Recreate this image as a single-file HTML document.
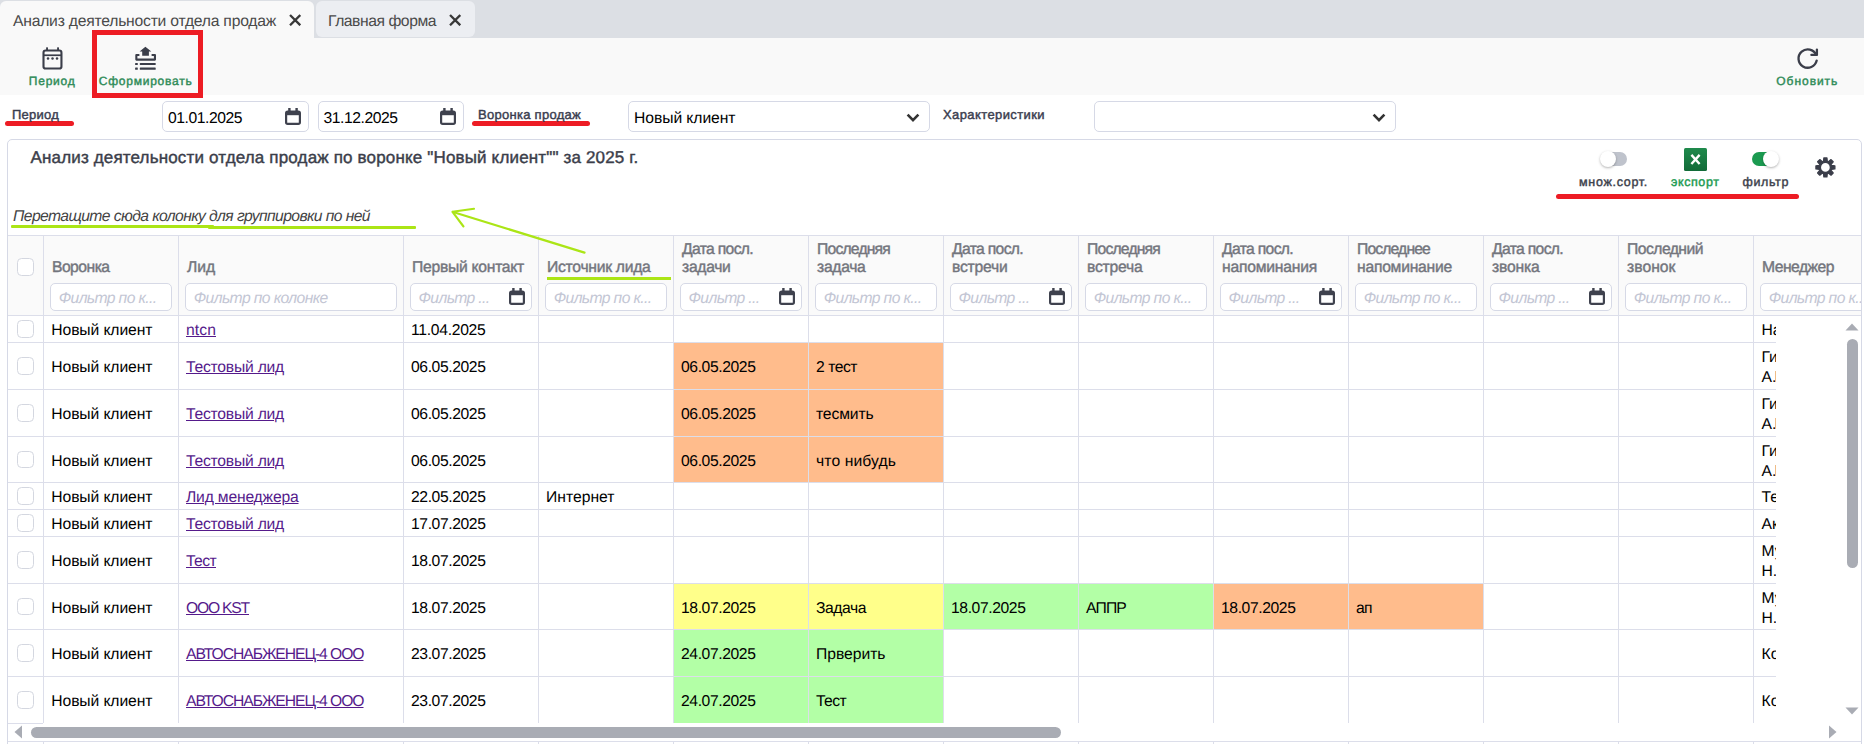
<!DOCTYPE html>
<html><head><meta charset="utf-8"><title>Анализ деятельности отдела продаж</title>
<style>
html,body{margin:0;padding:0;}
body{width:1864px;height:744px;overflow:hidden;position:relative;background:#fff;font-family:"Liberation Sans",sans-serif;text-rendering:geometricPrecision;}
.t{position:absolute;white-space:pre;line-height:20px;}
</style></head><body>
<div style="position:absolute;left:0px;top:0px;width:1864px;height:38px;background:#dcdfe4;"></div>
<div style="position:absolute;left:0px;top:1px;width:314px;height:37px;background:#f9f9f9;border-radius:6px 6px 0 0;"></div>
<div style="position:absolute;left:316px;top:1px;width:159px;height:36px;background:#eceef2;border-radius:6px;"></div>
<svg style="position:absolute;left:289px;top:14px" width="12.3" height="12.3" viewBox="0 0 12 12"><path d="M1 1 L11 11 M11 1 L1 11" stroke="#383838" stroke-width="2.25" fill="none"/></svg>
<svg style="position:absolute;left:448.7px;top:14px" width="12.3" height="12.3" viewBox="0 0 12 12"><path d="M1 1 L11 11 M11 1 L1 11" stroke="#383838" stroke-width="2.25" fill="none"/></svg>
<div style="position:absolute;left:0px;top:38px;width:1864px;height:57px;background:#f9f9f9;"></div>
<svg style="position:absolute;left:41px;top:46px" width="24" height="26" viewBox="0 0 24 26">
<rect x="2.5" y="4.55" width="17.95" height="17.95" rx="2.1" fill="none" stroke="#3b3e4a" stroke-width="2.1"/>
<rect x="2.5" y="8.4" width="18" height="1.7" fill="#3b3e4a"/>
<rect x="5.1" y="1.2" width="1.9" height="3.4" rx="0.6" fill="#3b3e4a"/><rect x="16.1" y="1.2" width="1.9" height="3.4" rx="0.6" fill="#3b3e4a"/>
<circle cx="7" cy="12.6" r="1.25" fill="#3b3e4a"/><circle cx="11.5" cy="12.6" r="1.25" fill="#3b3e4a"/><circle cx="16" cy="12.6" r="1.25" fill="#3b3e4a"/>
</svg>
<svg style="position:absolute;left:133px;top:46px" width="26" height="26" viewBox="0 0 26 26">
<path d="M12.4 0.8 L18.3 5.6 L15.9 5.6 L15.9 9.8 L9.2 9.8 L9.2 5.6 L6.6 5.6 Z" fill="#3b3e4a"/>
<path d="M6.4 9.05 H3.35 V13.6 H21.95 V9.05 H18.6" fill="none" stroke="#3b3e4a" stroke-width="2.1" stroke-linejoin="round"/>
<rect x="2.1" y="16.9" width="2.7" height="2.2" rx="0.5" fill="#3b3e4a"/><rect x="6.8" y="16.9" width="15.9" height="2.2" rx="0.5" fill="#3b3e4a"/>
<rect x="2.1" y="21.45" width="2.7" height="2.2" rx="0.5" fill="#3b3e4a"/><rect x="6.8" y="21.45" width="15.9" height="2.2" rx="0.5" fill="#3b3e4a"/>
</svg>
<svg style="position:absolute;left:1795px;top:46px" width="26" height="26" viewBox="0 0 26 26">
<path d="M21.2 8.9 A9.2 9.2 0 1 0 21.7 14.6" fill="none" stroke="#3b3e4a" stroke-width="2.3" stroke-linecap="round"/>
<path d="M21.9 3.6 V8.9 H16.4" fill="none" stroke="#3b3e4a" stroke-width="2.3" stroke-linecap="round" stroke-linejoin="round"/>
</svg>
<div style="position:absolute;left:92px;top:30px;width:111px;height:68px;background:transparent;border:5px solid #ed1c24;box-sizing:border-box;"></div>
<div style="position:absolute;left:5px;top:120.5px;width:69px;height:5.3px;background:#ed1c24;border-radius:3px;"></div>
<div style="position:absolute;left:472px;top:120.5px;width:118px;height:5.5px;background:#ed1c24;border-radius:3px;"></div>
<div style="position:absolute;left:162px;top:101px;width:147px;height:30.5px;background:#fff;border:1px solid #d6d9e6;border-radius:5px;box-sizing:border-box;"></div>
<svg style="position:absolute;left:285.2px;top:108px" width="16.0" height="17.0" viewBox="0 0 16 17">
<rect x="1.1" y="3.6" width="13.8" height="12.3" rx="1.6" fill="none" stroke="#3f424e" stroke-width="2.2"/>
<rect x="1.1" y="3.6" width="13.8" height="3.6" fill="#3f424e"/>
<rect x="3.2" y="0" width="2.4" height="4" fill="#3f424e"/><rect x="10.4" y="0" width="2.4" height="4" fill="#3f424e"/></svg>
<div style="position:absolute;left:318px;top:101px;width:146px;height:30.5px;background:#fff;border:1px solid #d6d9e6;border-radius:5px;box-sizing:border-box;"></div>
<svg style="position:absolute;left:440.2px;top:108px" width="16.0" height="17.0" viewBox="0 0 16 17">
<rect x="1.1" y="3.6" width="13.8" height="12.3" rx="1.6" fill="none" stroke="#3f424e" stroke-width="2.2"/>
<rect x="1.1" y="3.6" width="13.8" height="3.6" fill="#3f424e"/>
<rect x="3.2" y="0" width="2.4" height="4" fill="#3f424e"/><rect x="10.4" y="0" width="2.4" height="4" fill="#3f424e"/></svg>
<div style="position:absolute;left:628px;top:101px;width:302px;height:30.5px;background:#fff;border:1px solid #d6d9e6;border-radius:5px;box-sizing:border-box;"></div>
<svg style="position:absolute;left:906px;top:112.5px" width="14" height="10" viewBox="0 0 14 10"><path d="M1.6 1.6 L7 7.2 L12.4 1.6" fill="none" stroke="#333" stroke-width="2.6"/></svg>
<div style="position:absolute;left:1094px;top:101px;width:302px;height:30.5px;background:#fff;border:1px solid #d6d9e6;border-radius:5px;box-sizing:border-box;"></div>
<svg style="position:absolute;left:1372px;top:112.5px" width="14" height="10" viewBox="0 0 14 10"><path d="M1.6 1.6 L7 7.2 L12.4 1.6" fill="none" stroke="#333" stroke-width="2.6"/></svg>
<div style="position:absolute;left:7px;top:139px;width:1855px;height:620px;background:#fff;border:1px solid #d6d9e6;border-radius:5px 5px 0 0;box-sizing:border-box;"></div>
<div style="position:absolute;left:11px;top:225px;width:203px;height:3px;background:#abe516;border-radius:1px;"></div>
<div style="position:absolute;left:208px;top:226px;width:208px;height:3px;background:#abe516;border-radius:1px;"></div>
<div style="position:absolute;left:1603.5px;top:152.4px;width:23px;height:13.4px;border-radius:7px;background:#bfc3cc"></div>
<div style="position:absolute;left:1599.5px;top:150.6px;width:16.7px;height:16.7px;border-radius:50%;background:#fff;box-shadow:0 1px 2.5px rgba(0,0,0,.3)"></div>
<div style="position:absolute;left:1751.7px;top:152.4px;width:24px;height:13.4px;border-radius:7px;background:#1b9a50"></div>
<div style="position:absolute;left:1762.5px;top:150.6px;width:16.7px;height:16.7px;border-radius:50%;background:#fff;box-shadow:0 1px 2.5px rgba(0,0,0,.3)"></div>
<div style="position:absolute;left:1684px;top:148px;width:23px;height:23px;background:linear-gradient(#1f8a4c,#126b38);border-radius:1.5px;"></div>
<svg style="position:absolute;left:1684px;top:148px" width="23" height="23" viewBox="0 0 23 23">
<path d="M7.4 6.9 L15.6 16 M15.6 6.9 L7.4 16" stroke="#fff" stroke-width="2.4"/></svg>
<div style="position:absolute;left:1556px;top:193.8px;width:243px;height:5.5px;background:#ed1c24;border-radius:3px;"></div>
<svg style="position:absolute;left:1813px;top:154px" width="26" height="26" viewBox="0 0 26 26"><path fill-rule="evenodd" fill="#3b3e4a" stroke="#3b3e4a" stroke-width="1.3" stroke-linejoin="round" d="M10.51 7.29 L10.87 3.92 L13.93 3.92 L14.29 7.29 L15.39 7.74 L18.02 5.62 L20.18 7.78 L18.06 10.41 L18.51 11.51 L21.88 11.87 L21.88 14.93 L18.51 15.29 L18.06 16.39 L20.18 19.02 L18.02 21.18 L15.39 19.06 L14.29 19.51 L13.93 22.88 L10.87 22.88 L10.51 19.51 L9.41 19.06 L6.78 21.18 L4.62 19.02 L6.74 16.39 L6.29 15.29 L2.92 14.93 L2.92 11.87 L6.29 11.51 L6.74 10.41 L4.62 7.78 L6.78 5.62 L9.41 7.74 Z M7.40 13.40 a5.0 5.0 0 1 0 10.0 0 a5.0 5.0 0 1 0 -10.0 0 Z"/></svg>
<div style="position:absolute;left:8px;top:235px;width:1853px;height:81px;background:#fafafa;border-top:1px solid #dcdeea;border-bottom:1px solid #dcdeea;box-sizing:border-box;"></div>
<div style="position:absolute;left:674.0px;top:343px;width:270.0px;height:46px;background:#ffbc8c;"></div>
<div style="position:absolute;left:674.0px;top:390px;width:270.0px;height:46px;background:#ffbc8c;"></div>
<div style="position:absolute;left:674.0px;top:437px;width:270.0px;height:45px;background:#ffbc8c;"></div>
<div style="position:absolute;left:674.0px;top:584px;width:270.0px;height:45px;background:#ffff8a;"></div>
<div style="position:absolute;left:944.0px;top:584px;width:270.0px;height:45px;background:#b3ffa6;"></div>
<div style="position:absolute;left:1214.0px;top:584px;width:270.0px;height:45px;background:#ffbc8c;"></div>
<div style="position:absolute;left:674.0px;top:630px;width:270.0px;height:46px;background:#b3ffa6;"></div>
<div style="position:absolute;left:674.0px;top:677px;width:270.0px;height:46px;background:#b3ffa6;"></div>
<div style="position:absolute;left:8px;top:342px;width:1768px;height:1px;background:#dcdeea;"></div>
<div style="position:absolute;left:8px;top:389px;width:1768px;height:1px;background:#dcdeea;"></div>
<div style="position:absolute;left:8px;top:436px;width:1768px;height:1px;background:#dcdeea;"></div>
<div style="position:absolute;left:8px;top:482px;width:1768px;height:1px;background:#dcdeea;"></div>
<div style="position:absolute;left:8px;top:509px;width:1768px;height:1px;background:#dcdeea;"></div>
<div style="position:absolute;left:8px;top:536px;width:1768px;height:1px;background:#dcdeea;"></div>
<div style="position:absolute;left:8px;top:583px;width:1768px;height:1px;background:#dcdeea;"></div>
<div style="position:absolute;left:8px;top:629px;width:1768px;height:1px;background:#dcdeea;"></div>
<div style="position:absolute;left:8px;top:676px;width:1768px;height:1px;background:#dcdeea;"></div>
<div style="position:absolute;left:43.0px;top:235px;width:1px;height:488px;background:#dcdeea;"></div>
<div style="position:absolute;left:178.0px;top:235px;width:1px;height:488px;background:#dcdeea;"></div>
<div style="position:absolute;left:403.0px;top:235px;width:1px;height:488px;background:#dcdeea;"></div>
<div style="position:absolute;left:538.0px;top:235px;width:1px;height:488px;background:#dcdeea;"></div>
<div style="position:absolute;left:673.0px;top:235px;width:1px;height:488px;background:#dcdeea;"></div>
<div style="position:absolute;left:808.0px;top:235px;width:1px;height:488px;background:#dcdeea;"></div>
<div style="position:absolute;left:943.0px;top:235px;width:1px;height:488px;background:#dcdeea;"></div>
<div style="position:absolute;left:1078.0px;top:235px;width:1px;height:488px;background:#dcdeea;"></div>
<div style="position:absolute;left:1213.0px;top:235px;width:1px;height:488px;background:#dcdeea;"></div>
<div style="position:absolute;left:1348.0px;top:235px;width:1px;height:488px;background:#dcdeea;"></div>
<div style="position:absolute;left:1483.0px;top:235px;width:1px;height:488px;background:#dcdeea;"></div>
<div style="position:absolute;left:1618.0px;top:235px;width:1px;height:488px;background:#dcdeea;"></div>
<div style="position:absolute;left:1753.0px;top:235px;width:1px;height:488px;background:#dcdeea;"></div>
<div style="position:absolute;left:8px;top:741px;width:1853px;height:1px;background:#dcdeea;"></div>
<div style="position:absolute;left:43.0px;top:742px;width:1px;height:3px;background:#dcdeea;"></div>
<div style="position:absolute;left:178.0px;top:742px;width:1px;height:3px;background:#dcdeea;"></div>
<div style="position:absolute;left:403.0px;top:742px;width:1px;height:3px;background:#dcdeea;"></div>
<div style="position:absolute;left:538.0px;top:742px;width:1px;height:3px;background:#dcdeea;"></div>
<div style="position:absolute;left:673.0px;top:742px;width:1px;height:3px;background:#dcdeea;"></div>
<div style="position:absolute;left:808.0px;top:742px;width:1px;height:3px;background:#dcdeea;"></div>
<div style="position:absolute;left:943.0px;top:742px;width:1px;height:3px;background:#dcdeea;"></div>
<div style="position:absolute;left:1078.0px;top:742px;width:1px;height:3px;background:#dcdeea;"></div>
<div style="position:absolute;left:1213.0px;top:742px;width:1px;height:3px;background:#dcdeea;"></div>
<div style="position:absolute;left:1348.0px;top:742px;width:1px;height:3px;background:#dcdeea;"></div>
<div style="position:absolute;left:1483.0px;top:742px;width:1px;height:3px;background:#dcdeea;"></div>
<div style="position:absolute;left:1618.0px;top:742px;width:1px;height:3px;background:#dcdeea;"></div>
<div style="position:absolute;left:1753.0px;top:742px;width:1px;height:3px;background:#dcdeea;"></div>
<div style="position:absolute;left:8px;top:723px;width:35px;height:1px;background:#dcdeea;"></div>
<div style="position:absolute;left:547px;top:276.6px;width:124px;height:3px;background:#abe516;"></div>
<div style="position:absolute;left:17px;top:258px;width:16.6px;height:17.5px;background:#fff;border:1px solid #d4d7e0;border-radius:4.5px;box-sizing:border-box;"></div>
<div style="position:absolute;left:50.0px;top:283px;width:121.5px;height:27.8px;background:#fff;border:1px solid #d6d9e6;border-radius:5px;box-sizing:border-box;"></div>
<div style="position:absolute;left:185.0px;top:283px;width:211.5px;height:27.8px;background:#fff;border:1px solid #d6d9e6;border-radius:5px;box-sizing:border-box;"></div>
<div style="position:absolute;left:410.0px;top:283px;width:121.5px;height:27.8px;background:#fff;border:1px solid #d6d9e6;border-radius:5px;box-sizing:border-box;"></div>
<svg style="position:absolute;left:509.2px;top:288.2px" width="16.0" height="17.0" viewBox="0 0 16 17">
<rect x="1.1" y="3.6" width="13.8" height="12.3" rx="1.6" fill="none" stroke="#3f424e" stroke-width="2.2"/>
<rect x="1.1" y="3.6" width="13.8" height="3.6" fill="#3f424e"/>
<rect x="3.2" y="0" width="2.4" height="4" fill="#3f424e"/><rect x="10.4" y="0" width="2.4" height="4" fill="#3f424e"/></svg>
<div style="position:absolute;left:545.0px;top:283px;width:121.5px;height:27.8px;background:#fff;border:1px solid #d6d9e6;border-radius:5px;box-sizing:border-box;"></div>
<div style="position:absolute;left:680.0px;top:283px;width:121.5px;height:27.8px;background:#fff;border:1px solid #d6d9e6;border-radius:5px;box-sizing:border-box;"></div>
<svg style="position:absolute;left:779.2px;top:288.2px" width="16.0" height="17.0" viewBox="0 0 16 17">
<rect x="1.1" y="3.6" width="13.8" height="12.3" rx="1.6" fill="none" stroke="#3f424e" stroke-width="2.2"/>
<rect x="1.1" y="3.6" width="13.8" height="3.6" fill="#3f424e"/>
<rect x="3.2" y="0" width="2.4" height="4" fill="#3f424e"/><rect x="10.4" y="0" width="2.4" height="4" fill="#3f424e"/></svg>
<div style="position:absolute;left:815.0px;top:283px;width:121.5px;height:27.8px;background:#fff;border:1px solid #d6d9e6;border-radius:5px;box-sizing:border-box;"></div>
<div style="position:absolute;left:950.0px;top:283px;width:121.5px;height:27.8px;background:#fff;border:1px solid #d6d9e6;border-radius:5px;box-sizing:border-box;"></div>
<svg style="position:absolute;left:1049.2px;top:288.2px" width="16.0" height="17.0" viewBox="0 0 16 17">
<rect x="1.1" y="3.6" width="13.8" height="12.3" rx="1.6" fill="none" stroke="#3f424e" stroke-width="2.2"/>
<rect x="1.1" y="3.6" width="13.8" height="3.6" fill="#3f424e"/>
<rect x="3.2" y="0" width="2.4" height="4" fill="#3f424e"/><rect x="10.4" y="0" width="2.4" height="4" fill="#3f424e"/></svg>
<div style="position:absolute;left:1085.0px;top:283px;width:121.5px;height:27.8px;background:#fff;border:1px solid #d6d9e6;border-radius:5px;box-sizing:border-box;"></div>
<div style="position:absolute;left:1220.0px;top:283px;width:121.5px;height:27.8px;background:#fff;border:1px solid #d6d9e6;border-radius:5px;box-sizing:border-box;"></div>
<svg style="position:absolute;left:1319.2px;top:288.2px" width="16.0" height="17.0" viewBox="0 0 16 17">
<rect x="1.1" y="3.6" width="13.8" height="12.3" rx="1.6" fill="none" stroke="#3f424e" stroke-width="2.2"/>
<rect x="1.1" y="3.6" width="13.8" height="3.6" fill="#3f424e"/>
<rect x="3.2" y="0" width="2.4" height="4" fill="#3f424e"/><rect x="10.4" y="0" width="2.4" height="4" fill="#3f424e"/></svg>
<div style="position:absolute;left:1355.0px;top:283px;width:121.5px;height:27.8px;background:#fff;border:1px solid #d6d9e6;border-radius:5px;box-sizing:border-box;"></div>
<div style="position:absolute;left:1490.0px;top:283px;width:121.5px;height:27.8px;background:#fff;border:1px solid #d6d9e6;border-radius:5px;box-sizing:border-box;"></div>
<svg style="position:absolute;left:1589.2px;top:288.2px" width="16.0" height="17.0" viewBox="0 0 16 17">
<rect x="1.1" y="3.6" width="13.8" height="12.3" rx="1.6" fill="none" stroke="#3f424e" stroke-width="2.2"/>
<rect x="1.1" y="3.6" width="13.8" height="3.6" fill="#3f424e"/>
<rect x="3.2" y="0" width="2.4" height="4" fill="#3f424e"/><rect x="10.4" y="0" width="2.4" height="4" fill="#3f424e"/></svg>
<div style="position:absolute;left:1625.0px;top:283px;width:121.5px;height:27.8px;background:#fff;border:1px solid #d6d9e6;border-radius:5px;box-sizing:border-box;"></div>
<div style="position:absolute;left:1760.0px;top:283px;width:121.5px;height:27.8px;background:#fff;border:1px solid #d6d9e6;border-radius:5px;box-sizing:border-box;"></div>
<div style="position:absolute;left:17px;top:320.4px;width:16.6px;height:17.5px;background:#fff;border:1px solid #d4d7e0;border-radius:4.5px;box-sizing:border-box;"></div>
<div style="position:absolute;left:17px;top:357.4px;width:16.6px;height:17.5px;background:#fff;border:1px solid #d4d7e0;border-radius:4.5px;box-sizing:border-box;"></div>
<div style="position:absolute;left:17px;top:404.4px;width:16.6px;height:17.5px;background:#fff;border:1px solid #d4d7e0;border-radius:4.5px;box-sizing:border-box;"></div>
<div style="position:absolute;left:17px;top:450.9px;width:16.6px;height:17.5px;background:#fff;border:1px solid #d4d7e0;border-radius:4.5px;box-sizing:border-box;"></div>
<div style="position:absolute;left:17px;top:487.4px;width:16.6px;height:17.5px;background:#fff;border:1px solid #d4d7e0;border-radius:4.5px;box-sizing:border-box;"></div>
<div style="position:absolute;left:17px;top:514.4px;width:16.6px;height:17.5px;background:#fff;border:1px solid #d4d7e0;border-radius:4.5px;box-sizing:border-box;"></div>
<div style="position:absolute;left:17px;top:551.4px;width:16.6px;height:17.5px;background:#fff;border:1px solid #d4d7e0;border-radius:4.5px;box-sizing:border-box;"></div>
<div style="position:absolute;left:17px;top:597.9px;width:16.6px;height:17.5px;background:#fff;border:1px solid #d4d7e0;border-radius:4.5px;box-sizing:border-box;"></div>
<div style="position:absolute;left:17px;top:644.4px;width:16.6px;height:17.5px;background:#fff;border:1px solid #d4d7e0;border-radius:4.5px;box-sizing:border-box;"></div>
<div style="position:absolute;left:17px;top:691.4px;width:16.6px;height:17.5px;background:#fff;border:1px solid #d4d7e0;border-radius:4.5px;box-sizing:border-box;"></div>
<span class="t" style="left:13px;top:12.00px;font-size:15.7px;color:#4a4a4a;letter-spacing:-0.224px;">Анализ деятельности отдела продаж</span>
<span class="t" style="left:328px;top:12.00px;font-size:15.7px;color:#4a4a4a;letter-spacing:-0.457px;">Главная форма</span>
<span class="t" style="left:28.8px;top:71.00px;font-size:12px;font-weight:400;-webkit-text-stroke:0.42px #2e8b57;color:#2e8b57;letter-spacing:0.768px;">Период</span>
<span class="t" style="left:98.8px;top:71.00px;font-size:12px;font-weight:400;-webkit-text-stroke:0.42px #2e8b57;color:#2e8b57;letter-spacing:0.751px;">Сформировать</span>
<span class="t" style="left:1776.3px;top:71.00px;font-size:12px;font-weight:400;-webkit-text-stroke:0.42px #2e8b57;color:#2e8b57;letter-spacing:0.957px;">Обновить</span>
<span class="t" style="left:12px;top:105.00px;font-size:13px;font-weight:400;-webkit-text-stroke:0.42px #393c4e;color:#393c4e;letter-spacing:0.232px;">Период</span>
<span class="t" style="left:478px;top:105.00px;font-size:13px;font-weight:400;-webkit-text-stroke:0.42px #393c4e;color:#393c4e;letter-spacing:0.279px;">Воронка продаж</span>
<span class="t" style="left:943px;top:105.00px;font-size:13px;font-weight:400;-webkit-text-stroke:0.42px #393c4e;color:#393c4e;letter-spacing:0.401px;">Характеристики</span>
<span class="t" style="left:168px;top:109.00px;font-size:15.7px;color:#000;letter-spacing:-0.452px;">01.01.2025</span>
<span class="t" style="left:323.5px;top:109.00px;font-size:15.7px;color:#000;letter-spacing:-0.452px;">31.12.2025</span>
<span class="t" style="left:634px;top:109.00px;font-size:15.7px;color:#000;letter-spacing:-0.069px;">Новый клиент</span>
<span class="t" style="left:30.5px;top:148.00px;font-size:17px;font-weight:400;-webkit-text-stroke:0.42px #3b3e4a;color:#3b3e4a;letter-spacing:0.161px;">Анализ деятельности отдела продаж по воронке &quot;Новый клиент&quot;&quot; за 2025 г.</span>
<span class="t" style="left:13px;top:207.00px;font-size:15.7px;font-style:italic;color:#444;letter-spacing:-0.591px;">Перетащите сюда колонку для группировки по ней</span>
<span class="t" style="left:1579px;top:172.00px;font-size:12.5px;font-weight:400;-webkit-text-stroke:0.42px #3b3e4a;color:#3b3e4a;letter-spacing:0.702px;">множ.сорт.</span>
<span class="t" style="left:1671px;top:172.00px;font-size:12.5px;font-weight:400;-webkit-text-stroke:0.42px #1b9a50;color:#1b9a50;letter-spacing:0.589px;">экспорт</span>
<span class="t" style="left:1742.5px;top:172.00px;font-size:12.5px;font-weight:400;-webkit-text-stroke:0.42px #3b3e4a;color:#3b3e4a;letter-spacing:0.620px;">фильтр</span>
<span class="t" style="left:52.0px;top:258.00px;font-size:15.7px;font-weight:400;-webkit-text-stroke:0.42px #73757d;color:#73757d;letter-spacing:-0.533px;">Воронка</span>
<span class="t" style="left:187.0px;top:258.00px;font-size:15.7px;font-weight:400;-webkit-text-stroke:0.42px #73757d;color:#73757d;letter-spacing:-0.073px;">Лид</span>
<span class="t" style="left:412.0px;top:258.00px;font-size:15.7px;font-weight:400;-webkit-text-stroke:0.42px #73757d;color:#73757d;letter-spacing:-0.275px;">Первый контакт</span>
<span class="t" style="left:547.0px;top:258.00px;font-size:15.7px;font-weight:400;-webkit-text-stroke:0.42px #73757d;color:#73757d;letter-spacing:-0.279px;">Источник лида</span>
<span class="t" style="left:682.0px;top:240.00px;font-size:15.7px;font-weight:400;-webkit-text-stroke:0.42px #73757d;color:#73757d;letter-spacing:-0.667px;">Дата посл.</span>
<span class="t" style="left:682.0px;top:258.00px;font-size:15.7px;font-weight:400;-webkit-text-stroke:0.42px #73757d;color:#73757d;letter-spacing:-0.315px;">задачи</span>
<span class="t" style="left:817.0px;top:240.00px;font-size:15.7px;font-weight:400;-webkit-text-stroke:0.42px #73757d;color:#73757d;letter-spacing:-0.799px;">Последняя</span>
<span class="t" style="left:817.0px;top:258.00px;font-size:15.7px;font-weight:400;-webkit-text-stroke:0.42px #73757d;color:#73757d;letter-spacing:-0.310px;">задача</span>
<span class="t" style="left:952.0px;top:240.00px;font-size:15.7px;font-weight:400;-webkit-text-stroke:0.42px #73757d;color:#73757d;letter-spacing:-0.667px;">Дата посл.</span>
<span class="t" style="left:952.0px;top:258.00px;font-size:15.7px;font-weight:400;-webkit-text-stroke:0.42px #73757d;color:#73757d;letter-spacing:-0.223px;">встречи</span>
<span class="t" style="left:1087.0px;top:240.00px;font-size:15.7px;font-weight:400;-webkit-text-stroke:0.42px #73757d;color:#73757d;letter-spacing:-0.799px;">Последняя</span>
<span class="t" style="left:1087.0px;top:258.00px;font-size:15.7px;font-weight:400;-webkit-text-stroke:0.42px #73757d;color:#73757d;letter-spacing:-0.217px;">встреча</span>
<span class="t" style="left:1222.0px;top:240.00px;font-size:15.7px;font-weight:400;-webkit-text-stroke:0.42px #73757d;color:#73757d;letter-spacing:-0.667px;">Дата посл.</span>
<span class="t" style="left:1222.0px;top:258.00px;font-size:15.7px;font-weight:400;-webkit-text-stroke:0.42px #73757d;color:#73757d;letter-spacing:-0.224px;">напоминания</span>
<span class="t" style="left:1357.0px;top:240.00px;font-size:15.7px;font-weight:400;-webkit-text-stroke:0.42px #73757d;color:#73757d;letter-spacing:-0.851px;">Последнее</span>
<span class="t" style="left:1357.0px;top:258.00px;font-size:15.7px;font-weight:400;-webkit-text-stroke:0.42px #73757d;color:#73757d;letter-spacing:-0.246px;">напоминание</span>
<span class="t" style="left:1492.0px;top:240.00px;font-size:15.7px;font-weight:400;-webkit-text-stroke:0.42px #73757d;color:#73757d;letter-spacing:-0.667px;">Дата посл.</span>
<span class="t" style="left:1492.0px;top:258.00px;font-size:15.7px;font-weight:400;-webkit-text-stroke:0.42px #73757d;color:#73757d;letter-spacing:-0.195px;">звонка</span>
<span class="t" style="left:1627.0px;top:240.00px;font-size:15.7px;font-weight:400;-webkit-text-stroke:0.42px #73757d;color:#73757d;letter-spacing:-0.526px;">Последний</span>
<span class="t" style="left:1627.0px;top:258.00px;font-size:15.7px;font-weight:400;-webkit-text-stroke:0.42px #73757d;color:#73757d;letter-spacing:0.029px;">звонок</span>
<span class="t" style="left:1762.0px;top:258.00px;font-size:15.7px;font-weight:400;-webkit-text-stroke:0.42px #73757d;color:#73757d;letter-spacing:-0.514px;">Менеджер</span>
<span class="t" style="left:58.7px;top:289.00px;font-size:15.7px;font-style:italic;color:#c3c6d4;letter-spacing:-0.619px;">Фильтр по к...</span>
<span class="t" style="left:193.7px;top:289.00px;font-size:15.7px;font-style:italic;color:#c3c6d4;letter-spacing:-0.595px;">Фильтр по колонке</span>
<span class="t" style="left:418.5px;top:289.00px;font-size:15.7px;font-style:italic;color:#c3c6d4;letter-spacing:-0.634px;">Фильтр ...</span>
<span class="t" style="left:553.7px;top:289.00px;font-size:15.7px;font-style:italic;color:#c3c6d4;letter-spacing:-0.619px;">Фильтр по к...</span>
<span class="t" style="left:688.5px;top:289.00px;font-size:15.7px;font-style:italic;color:#c3c6d4;letter-spacing:-0.634px;">Фильтр ...</span>
<span class="t" style="left:823.7px;top:289.00px;font-size:15.7px;font-style:italic;color:#c3c6d4;letter-spacing:-0.619px;">Фильтр по к...</span>
<span class="t" style="left:958.5px;top:289.00px;font-size:15.7px;font-style:italic;color:#c3c6d4;letter-spacing:-0.634px;">Фильтр ...</span>
<span class="t" style="left:1093.7px;top:289.00px;font-size:15.7px;font-style:italic;color:#c3c6d4;letter-spacing:-0.619px;">Фильтр по к...</span>
<span class="t" style="left:1228.5px;top:289.00px;font-size:15.7px;font-style:italic;color:#c3c6d4;letter-spacing:-0.634px;">Фильтр ...</span>
<span class="t" style="left:1363.7px;top:289.00px;font-size:15.7px;font-style:italic;color:#c3c6d4;letter-spacing:-0.619px;">Фильтр по к...</span>
<span class="t" style="left:1498.5px;top:289.00px;font-size:15.7px;font-style:italic;color:#c3c6d4;letter-spacing:-0.634px;">Фильтр ...</span>
<span class="t" style="left:1633.7px;top:289.00px;font-size:15.7px;font-style:italic;color:#c3c6d4;letter-spacing:-0.619px;">Фильтр по к...</span>
<span class="t" style="left:1768.7px;top:289.00px;font-size:15.7px;font-style:italic;color:#c3c6d4;letter-spacing:-0.619px;">Фильтр по к...</span>
<span class="t" style="left:51.3px;top:321.00px;font-size:15.7px;color:#000;letter-spacing:-0.111px;">Новый клиент</span>
<span class="t" style="left:186px;top:321.00px;font-size:15.7px;color:#551a8b;letter-spacing:0.086px;text-decoration:underline;text-decoration-thickness:1px;text-underline-offset:0.8px;">ntcn</span>
<span class="t" style="left:411px;top:321.00px;font-size:15.7px;color:#000;letter-spacing:-0.286px;">11.04.2025</span>
<span class="t" style="left:1761.5px;top:321.00px;font-size:15.7px;color:#000;">На</span>
<span class="t" style="left:51.3px;top:358.00px;font-size:15.7px;color:#000;letter-spacing:-0.111px;">Новый клиент</span>
<span class="t" style="left:186px;top:358.00px;font-size:15.7px;color:#551a8b;letter-spacing:-0.234px;text-decoration:underline;text-decoration-thickness:1px;text-underline-offset:0.8px;">Тестовый лид</span>
<span class="t" style="left:411px;top:358.00px;font-size:15.7px;color:#000;letter-spacing:-0.402px;">06.05.2025</span>
<span class="t" style="left:681px;top:358.00px;font-size:15.7px;color:#000;letter-spacing:-0.402px;">06.05.2025</span>
<span class="t" style="left:816px;top:358.00px;font-size:15.7px;color:#000;letter-spacing:-0.477px;">2 тест</span>
<span class="t" style="left:1761.5px;top:348.00px;font-size:15.7px;color:#000;">Ги</span>
<span class="t" style="left:1761.5px;top:368.00px;font-size:15.7px;color:#000;">А.І</span>
<span class="t" style="left:51.3px;top:405.00px;font-size:15.7px;color:#000;letter-spacing:-0.111px;">Новый клиент</span>
<span class="t" style="left:186px;top:405.00px;font-size:15.7px;color:#551a8b;letter-spacing:-0.234px;text-decoration:underline;text-decoration-thickness:1px;text-underline-offset:0.8px;">Тестовый лид</span>
<span class="t" style="left:411px;top:405.00px;font-size:15.7px;color:#000;letter-spacing:-0.402px;">06.05.2025</span>
<span class="t" style="left:681px;top:405.00px;font-size:15.7px;color:#000;letter-spacing:-0.402px;">06.05.2025</span>
<span class="t" style="left:816px;top:405.00px;font-size:15.7px;color:#000;letter-spacing:-0.141px;">тесмить</span>
<span class="t" style="left:1761.5px;top:395.00px;font-size:15.7px;color:#000;">Ги</span>
<span class="t" style="left:1761.5px;top:415.00px;font-size:15.7px;color:#000;">А.І</span>
<span class="t" style="left:51.3px;top:452.00px;font-size:15.7px;color:#000;letter-spacing:-0.111px;">Новый клиент</span>
<span class="t" style="left:186px;top:452.00px;font-size:15.7px;color:#551a8b;letter-spacing:-0.234px;text-decoration:underline;text-decoration-thickness:1px;text-underline-offset:0.8px;">Тестовый лид</span>
<span class="t" style="left:411px;top:452.00px;font-size:15.7px;color:#000;letter-spacing:-0.402px;">06.05.2025</span>
<span class="t" style="left:681px;top:452.00px;font-size:15.7px;color:#000;letter-spacing:-0.402px;">06.05.2025</span>
<span class="t" style="left:816px;top:452.00px;font-size:15.7px;color:#000;letter-spacing:0.102px;">что нибудь</span>
<span class="t" style="left:1761.5px;top:442.00px;font-size:15.7px;color:#000;">Ги</span>
<span class="t" style="left:1761.5px;top:462.00px;font-size:15.7px;color:#000;">А.І</span>
<span class="t" style="left:51.3px;top:488.00px;font-size:15.7px;color:#000;letter-spacing:-0.111px;">Новый клиент</span>
<span class="t" style="left:186px;top:488.00px;font-size:15.7px;color:#551a8b;letter-spacing:-0.189px;text-decoration:underline;text-decoration-thickness:1px;text-underline-offset:0.8px;">Лид менеджера</span>
<span class="t" style="left:411px;top:488.00px;font-size:15.7px;color:#000;letter-spacing:-0.402px;">22.05.2025</span>
<span class="t" style="left:546px;top:488.00px;font-size:15.7px;color:#000;letter-spacing:0.006px;">Интернет</span>
<span class="t" style="left:1761.5px;top:488.00px;font-size:15.7px;color:#000;">Те</span>
<span class="t" style="left:51.3px;top:515.00px;font-size:15.7px;color:#000;letter-spacing:-0.111px;">Новый клиент</span>
<span class="t" style="left:186px;top:515.00px;font-size:15.7px;color:#551a8b;letter-spacing:-0.234px;text-decoration:underline;text-decoration-thickness:1px;text-underline-offset:0.8px;">Тестовый лид</span>
<span class="t" style="left:411px;top:515.00px;font-size:15.7px;color:#000;letter-spacing:-0.402px;">17.07.2025</span>
<span class="t" style="left:1761.5px;top:515.00px;font-size:15.7px;color:#000;">Ак</span>
<span class="t" style="left:51.3px;top:552.00px;font-size:15.7px;color:#000;letter-spacing:-0.111px;">Новый клиент</span>
<span class="t" style="left:186px;top:552.00px;font-size:15.7px;color:#551a8b;letter-spacing:-0.617px;text-decoration:underline;text-decoration-thickness:1px;text-underline-offset:0.8px;">Тест</span>
<span class="t" style="left:411px;top:552.00px;font-size:15.7px;color:#000;letter-spacing:-0.402px;">18.07.2025</span>
<span class="t" style="left:1761.5px;top:542.00px;font-size:15.7px;color:#000;">Му</span>
<span class="t" style="left:1761.5px;top:562.00px;font-size:15.7px;color:#000;">Н.</span>
<span class="t" style="left:51.3px;top:599.00px;font-size:15.7px;color:#000;letter-spacing:-0.111px;">Новый клиент</span>
<span class="t" style="left:186px;top:599.00px;font-size:15.7px;color:#551a8b;letter-spacing:-1.212px;text-decoration:underline;text-decoration-thickness:1px;text-underline-offset:0.8px;">ООО KST</span>
<span class="t" style="left:411px;top:599.00px;font-size:15.7px;color:#000;letter-spacing:-0.402px;">18.07.2025</span>
<span class="t" style="left:681px;top:599.00px;font-size:15.7px;color:#000;letter-spacing:-0.402px;">18.07.2025</span>
<span class="t" style="left:816px;top:599.00px;font-size:15.7px;color:#000;letter-spacing:-0.440px;">Задача</span>
<span class="t" style="left:951px;top:599.00px;font-size:15.7px;color:#000;letter-spacing:-0.402px;">18.07.2025</span>
<span class="t" style="left:1086px;top:599.00px;font-size:15.7px;color:#000;letter-spacing:-0.828px;">АППР</span>
<span class="t" style="left:1221px;top:599.00px;font-size:15.7px;color:#000;letter-spacing:-0.402px;">18.07.2025</span>
<span class="t" style="left:1356px;top:599.00px;font-size:15.7px;color:#000;letter-spacing:-0.617px;">ап</span>
<span class="t" style="left:1761.5px;top:589.00px;font-size:15.7px;color:#000;">Му</span>
<span class="t" style="left:1761.5px;top:609.00px;font-size:15.7px;color:#000;">Н.</span>
<span class="t" style="left:51.3px;top:645.00px;font-size:15.7px;color:#000;letter-spacing:-0.111px;">Новый клиент</span>
<span class="t" style="left:186px;top:645.00px;font-size:15.7px;color:#551a8b;letter-spacing:-1.060px;text-decoration:underline;text-decoration-thickness:1px;text-underline-offset:0.8px;">АВТОСНАБЖЕНЕЦ-4 ООО</span>
<span class="t" style="left:411px;top:645.00px;font-size:15.7px;color:#000;letter-spacing:-0.402px;">23.07.2025</span>
<span class="t" style="left:681px;top:645.00px;font-size:15.7px;color:#000;letter-spacing:-0.402px;">24.07.2025</span>
<span class="t" style="left:816px;top:645.00px;font-size:15.7px;color:#000;letter-spacing:-0.029px;">Прверить</span>
<span class="t" style="left:1761.5px;top:645.00px;font-size:15.7px;color:#000;">Ко</span>
<span class="t" style="left:51.3px;top:692.00px;font-size:15.7px;color:#000;letter-spacing:-0.111px;">Новый клиент</span>
<span class="t" style="left:186px;top:692.00px;font-size:15.7px;color:#551a8b;letter-spacing:-1.060px;text-decoration:underline;text-decoration-thickness:1px;text-underline-offset:0.8px;">АВТОСНАБЖЕНЕЦ-4 ООО</span>
<span class="t" style="left:411px;top:692.00px;font-size:15.7px;color:#000;letter-spacing:-0.402px;">23.07.2025</span>
<span class="t" style="left:681px;top:692.00px;font-size:15.7px;color:#000;letter-spacing:-0.402px;">24.07.2025</span>
<span class="t" style="left:816px;top:692.00px;font-size:15.7px;color:#000;letter-spacing:-0.617px;">Тест</span>
<span class="t" style="left:1761.5px;top:692.00px;font-size:15.7px;color:#000;">Ко</span>
<svg style="position:absolute;left:440px;top:200px" width="160" height="60" viewBox="440 200 160 60">
<path d="M584.5 252.6 L453 212" stroke="#abe516" stroke-width="2.2" fill="none" stroke-linecap="round"/>
<path d="M474 208.8 L452.5 211.8 L463.5 226.5" stroke="#abe516" stroke-width="2.1" fill="none" stroke-linecap="round" stroke-linejoin="round"/>
</svg>
<div style="position:absolute;left:1776px;top:316px;width:85px;height:407px;background:#fff;"></div>
<div style="position:absolute;left:1775px;top:371px;width:1px;height:11px;background:#efbc86;"></div>
<div style="position:absolute;left:1775px;top:418px;width:1px;height:11px;background:#efbc86;"></div>
<div style="position:absolute;left:1775px;top:465px;width:1px;height:11px;background:#efbc86;"></div>
<div style="position:absolute;left:1862px;top:140px;width:2px;height:604px;background:#fff;"></div>
<div style="position:absolute;left:1861px;top:144px;width:1px;height:600px;background:#d6d9e6;"></div>
<div style="position:absolute;left:31px;top:727px;width:1030px;height:11px;background:#a9acb4;border-radius:6px;"></div>
<svg style="position:absolute;left:14px;top:725px" width="9" height="14" viewBox="0 0 9 14"><path d="M8 0.5 L0.5 7 L8 13.5 Z" fill="#a9acb4"/></svg>
<svg style="position:absolute;left:1828px;top:725px" width="9" height="14" viewBox="0 0 9 14"><path d="M1 0.5 L8.5 7 L1 13.5 Z" fill="#a9acb4"/></svg>
<div style="position:absolute;left:1846.5px;top:339px;width:11.5px;height:229px;background:#a9acb4;border-radius:6px;"></div>
<svg style="position:absolute;left:1845.2px;top:322.9px" width="14" height="8" viewBox="0 0 14 8"><path d="M0.5 7.5 L7 0.5 L13.5 7.5 Z" fill="#a9acb4"/></svg>
<svg style="position:absolute;left:1845.2px;top:707.3px" width="14" height="8" viewBox="0 0 14 8"><path d="M0.5 0.5 L7 7.5 L13.5 0.5 Z" fill="#a9acb4"/></svg>
</body></html>
